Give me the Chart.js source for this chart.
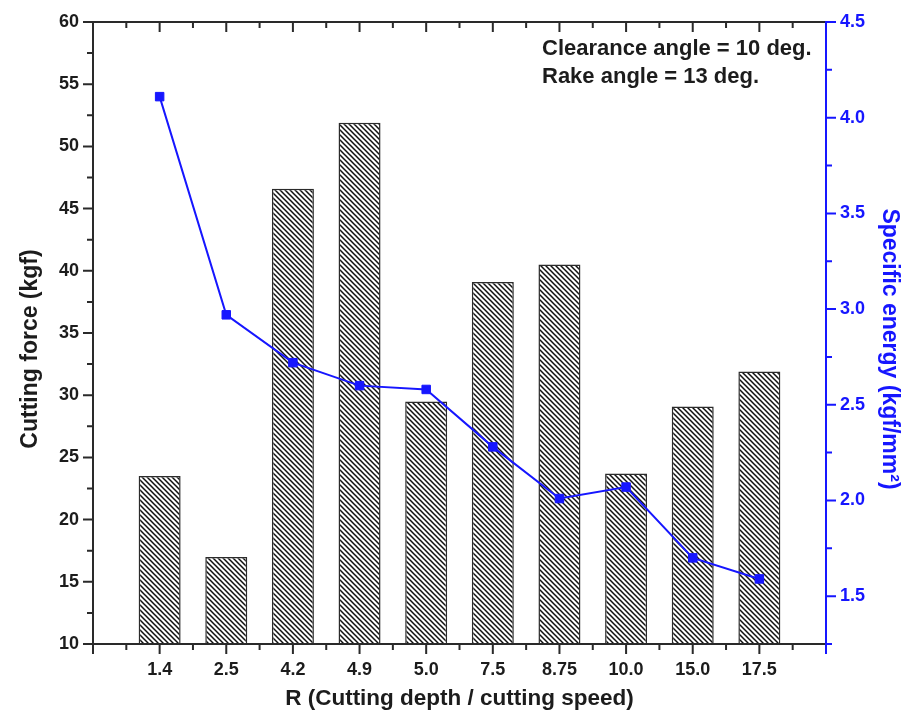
<!DOCTYPE html>
<html><head><meta charset="utf-8">
<script src="https://cdn.jsdelivr.net/npm/chart.js@4.4.1/dist/chart.umd.min.js"></script>
<style>html,body{margin:0;padding:0;background:#fff}#wrap{width:906px;height:714px}</style>
</head><body><div id="wrap"><canvas id="c" width="906" height="714"></canvas></div>
<script>
const categories = ['1.4','2.5','4.2','4.9','5.0','7.5','8.75','10.0','15.0','17.5'];
const cuttingForce = [23.5, 17.0, 46.6, 51.9, 29.5, 39.1, 40.5, 23.7, 29.1, 31.9];
const specificEnergy = [4.11, 2.97, 2.72, 2.60, 2.58, 2.28, 2.01, 2.07, 1.70, 1.59];
const leftTicks = [10, 15, 20, 25, 30, 35, 40, 45, 50, 55, 60];
const rightTicks = [1.5, 2.0, 2.5, 3.0, 3.5, 4.0, 4.5];
const notes = ['Clearance angle = 10 deg.', 'Rake angle = 13 deg.'];

const FONT = 'Arial, "Liberation Sans", sans-serif';
const BLUE = 'rgb(22,22,255)';
const DARK = '#1c1c1c';

const labels = [''].concat(categories, ['']);
const barData = [null].concat(cuttingForce, [null]);
const lineData = [null].concat(specificEnergy, [null]);

function hatch() {
  const s = 5;
  const c = document.createElement('canvas');
  c.width = s; c.height = s;
  const g = c.getContext('2d');
  g.fillStyle = '#fff'; g.fillRect(0, 0, s, s);
  g.strokeStyle = '#111'; g.lineWidth = 1.5;
  g.beginPath();
  g.moveTo(-1, -1); g.lineTo(s + 1, s + 1);
  g.moveTo(-1, s - 1); g.lineTo(1, s + 1);
  g.moveTo(s - 1, -1); g.lineTo(s + 1, 1);
  g.stroke();
  return g.createPattern(c, 'repeat');
}
const ctx = document.getElementById('c').getContext('2d');
const pattern = hatch();

const framePlugin = {
  id: 'frame',
  afterDatasetsDraw(chart) {
    const c = chart.ctx, a = chart.chartArea;
    const x = chart.scales.x, y = chart.scales.y, y1 = chart.scales.y1;
    const MAJ = 10, MIN = 6;
    c.save();
    c.lineCap = 'butt';
    c.strokeStyle = '#2a2a2a'; c.lineWidth = 2;
    c.beginPath();
    c.moveTo(a.left, a.top); c.lineTo(a.right, a.top);
    c.moveTo(a.left, a.top); c.lineTo(a.left, a.bottom);
    c.moveTo(a.left, a.bottom); c.lineTo(a.right, a.bottom);
    for (let i = 0; i < labels.length; i++) {
      const px = x.getPixelForValue(i);
      c.moveTo(px, a.bottom); c.lineTo(px, a.bottom + MAJ);
      c.moveTo(px, a.top); c.lineTo(px, a.top + MAJ);
      if (i < labels.length - 1) {
        const pm = x.getPixelForValue(i + 0.5);
        c.moveTo(pm, a.bottom); c.lineTo(pm, a.bottom + MIN);
        c.moveTo(pm, a.top); c.lineTo(pm, a.top + MIN);
      }
    }
    for (let i = 0; i < leftTicks.length; i++) {
      const py = y.getPixelForValue(leftTicks[i]);
      c.moveTo(a.left, py); c.lineTo(a.left - MAJ, py);
      if (i < leftTicks.length - 1) {
        const pm = y.getPixelForValue((leftTicks[i] + leftTicks[i + 1]) / 2);
        c.moveTo(a.left, pm); c.lineTo(a.left - MIN, pm);
      }
    }
    c.stroke();
    c.strokeStyle = BLUE; c.lineWidth = 2;
    c.beginPath();
    c.moveTo(a.right, a.top - 1); c.lineTo(a.right, a.bottom + MAJ);
    for (let i = 0; i < rightTicks.length; i++) {
      const py = y1.getPixelForValue(rightTicks[i]);
      c.moveTo(a.right, py); c.lineTo(a.right + MAJ, py);
      const pm = y1.getPixelForValue(rightTicks[i] - 0.25);
      c.moveTo(a.right, pm); c.lineTo(a.right + MIN, pm);
    }
    c.stroke();
    c.fillStyle = DARK;
    c.font = 'bold 22px ' + FONT;
    c.textBaseline = 'middle';
    c.textAlign = 'left';
    notes.forEach((t, k) => c.fillText(t, a.right - 284, a.top + 27 + k * 28));
    c.restore();
  }
};

new Chart(ctx, {
  type: 'bar',
  data: {
    labels: labels,
    datasets: [
      {
        type: 'line', label: 'Specific energy', data: lineData, yAxisID: 'y1', xAxisID: 'x',
        borderColor: BLUE, backgroundColor: BLUE, borderWidth: 2,
        pointStyle: 'rect', pointRadius: 6, pointBorderWidth: 1,
        pointBackgroundColor: BLUE, pointBorderColor: BLUE,
        tension: 0, spanGaps: false, order: 0
      },
      {
        type: 'bar', label: 'Cutting force', data: barData, yAxisID: 'y', xAxisID: 'x',
        backgroundColor: pattern, borderColor: '#2b2b2b', borderWidth: 1.5,
        categoryPercentage: 1, barPercentage: 0.63, order: 1
      }
    ]
  },
  options: {
    responsive: false, animation: false, devicePixelRatio: 1,
    layout: { padding: { top: 22, left: 0, right: 0, bottom: 0 } },
    plugins: { legend: { display: false }, tooltip: { enabled: false } },
    scales: {
      x: {
        type: 'category', offset: false, position: 'bottom',
        grid: { display: false, drawTicks: false }, border: { display: false },
        ticks: { autoSkip: false, maxRotation: 0, color: DARK, padding: 15,
                 font: { family: FONT, size: 18, weight: 'bold' } },
        title: { display: true, text: 'R (Cutting depth / cutting speed)', color: DARK,
                 font: { family: FONT, size: 22.5, weight: 'bold' }, padding: { top: 0, bottom: 2 } },
        afterFit: s => { s.height = 70; s.paddingLeft = 0; s.paddingRight = 0; }
      },
      y: {
        type: 'linear', position: 'left', min: 10, max: 60,
        grid: { display: false, drawTicks: false }, border: { display: false },
        afterBuildTicks: s => { s.ticks = leftTicks.map(v => ({ value: v })); },
        ticks: { color: DARK, padding: 14, font: { family: FONT, size: 18, weight: 'bold' },
                 callback: v => String(v) },
        title: { display: true, text: 'Cutting force (kgf)     ', color: DARK,
                 font: { family: FONT, size: 23, weight: 'bold' }, padding: { top: 17, bottom: 0 } },
        afterFit: s => { s.width = 93; s.paddingTop = 0; s.paddingBottom = 0; }
      },
      y1: {
        type: 'linear', position: 'right', min: 1.25, max: 4.5,
        grid: { display: false, drawTicks: false }, border: { display: false },
        afterBuildTicks: s => { s.ticks = rightTicks.map(v => ({ value: v })); },
        ticks: { color: BLUE, padding: 14, font: { family: FONT, size: 18, weight: 'bold' },
                 callback: v => Number(v).toFixed(1) },
        title: { display: true, text: '     Specific energy (kgf/mm²)', color: BLUE,
                 font: { family: FONT, size: 23, weight: 'bold' }, padding: { top: 3, bottom: 0 } },
        afterFit: s => { s.width = 80; s.paddingTop = 0; s.paddingBottom = 0; }
      }
    }
  },
  plugins: [framePlugin]
});
</script></body></html>
